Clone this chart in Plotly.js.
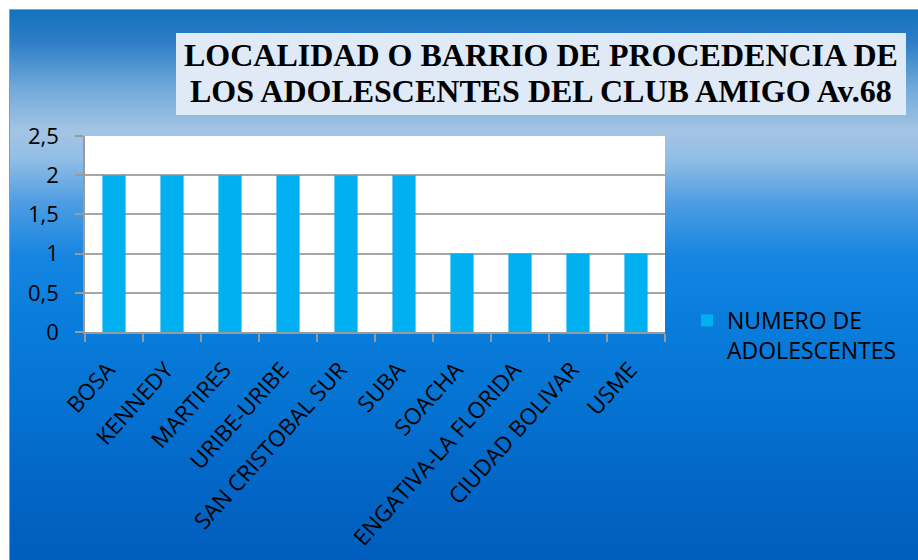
<!DOCTYPE html>
<html>
<head>
<meta charset="utf-8">
<script src="https://cdn.plot.ly/plotly-3.0.1.min.js"></script>
<style>
  html, body { margin: 0; padding: 0; background: #ffffff; }
  #wrap { position: relative; width: 918px; height: 560px; overflow: hidden; background: #ffffff; }
  #bg { position: absolute; left: 9px; top: 9px; width: 909px; height: 551px;
        border-top: 1px solid #9a9a9a; border-left: 1px solid #9a9a9a; box-sizing: border-box;
        background: linear-gradient(to bottom,
          #1472bd 0%, #2f7ec6 6%, #70a8da 14%, #a4c4e4 22%, #92bee6 27%,
          #4e9de2 35%, #1585e2 45%, #0a7ddc 56%, #0574d3 70%, #0367c7 85%, #005dbd 100%); }
  #chart { position: absolute; left: 0; top: 0; width: 918px; height: 560px; }
</style>
</head>
<body>
<div id="wrap">
  <div id="bg"></div>
  <div id="chart"></div>
</div>
<script>
const categories = ["BOSA", "KENNEDY", "MARTIRES", "URIBE-URIBE", "SAN CRISTOBAL SUR",
                    "SUBA", "SOACHA", "ENGATIVA-LA FLORIDA", "CIUDAD BOLIVAR", "USME"];
const numeroAdolescentes = [2, 2, 2, 2, 2, 2, 1, 1, 1, 1];
const seriesName = "NUMERO DE<br>ADOLESCENTES";
const titleLine1 = "LOCALIDAD O BARRIO DE PROCEDENCIA DE";
const titleLine2 = "LOS ADOLESCENTES DEL CLUB AMIGO Av.68";
const yTicks = [0, 0.5, 1, 1.5, 2, 2.5];

const W = 918, H = 560;
const L = 85, R = 665, T = 136, B = 332;
const pw = R - L, ph = B - T;
const px = x => (x - L) / pw;
const py = y => (B - y) / ph;

const trace = {
  type: "bar",
  x: categories,
  y: numeroAdolescentes,
  name: seriesName,
  marker: { color: "#00B0F0", line: { width: 0 } },
  showlegend: true,
  hoverinfo: "x+y"
};

const sans = "'Open Sans', Lato, sans-serif";
const yFont = { family: sans, size: 22, color: "#000000" };
const xFont = { family: sans, size: 22.5, color: "#000000" };
const legFont = { family: sans, size: 23, color: "#000000" };
const titleFont = { family: "'Liberation Serif', 'Times New Roman', serif", size: 32, color: "#000000" };

const layout = {
  width: W, height: H,
  margin: { l: L, r: W - R, t: T, b: H - B, pad: 0 },
  paper_bgcolor: "rgba(0,0,0,0)",
  plot_bgcolor: "#ffffff",
  separators: ",.",
  bargap: 0.6,
  font: yFont,
  xaxis: {
    type: "category",
    tickangle: -48,
    ticks: "outside",
    tickson: "boundaries",
    ticklen: 8,
    tickcolor: "#9a9a9a",
    tickwidth: 1.5,
    showline: true,
    linecolor: "#9a9a9a",
    linewidth: 1.5,
    showgrid: false,
    tickfont: xFont,
    ticklabelstandoff: 14,
    ticklabelshift: -6
  },
  yaxis: {
    range: [0, 2.5],
    tickvals: yTicks,
    ticks: "outside",
    ticklen: 8,
    tickcolor: "#9a9a9a",
    tickwidth: 1.5,
    showline: true,
    linecolor: "#9a9a9a",
    linewidth: 1.5,
    showgrid: true,
    gridcolor: "#a6a6a6",
    gridwidth: 1.5,
    zeroline: false,
    tickfont: yFont,
    ticklabelstandoff: 12
  },
  legend: {
    x: px(687), xanchor: "left",
    y: py(299), yanchor: "top",
    bgcolor: "rgba(0,0,0,0)",
    font: legFont,
    valign: "top",
    itemwidth: 30
  },
  shapes: [
    { type: "rect", xref: "paper", yref: "paper",
      x0: px(176), x1: px(906), y0: py(33), y1: py(115),
      fillcolor: "#dfeaf6", line: { width: 0 }, layer: "above" }
  ],
  annotations: [
    { xref: "paper", yref: "paper", x: px(541), y: py(75), xanchor: "center", yanchor: "bottom",
      text: "<b>" + titleLine1 + "</b>", showarrow: false, font: titleFont },
    { xref: "paper", yref: "paper", x: px(541), y: py(111), xanchor: "center", yanchor: "bottom",
      text: "<b>" + titleLine2 + "</b>", showarrow: false, font: titleFont }
  ]
};

Plotly.newPlot("chart", [trace], layout, { displayModeBar: false });
</script>
</body>
</html>
